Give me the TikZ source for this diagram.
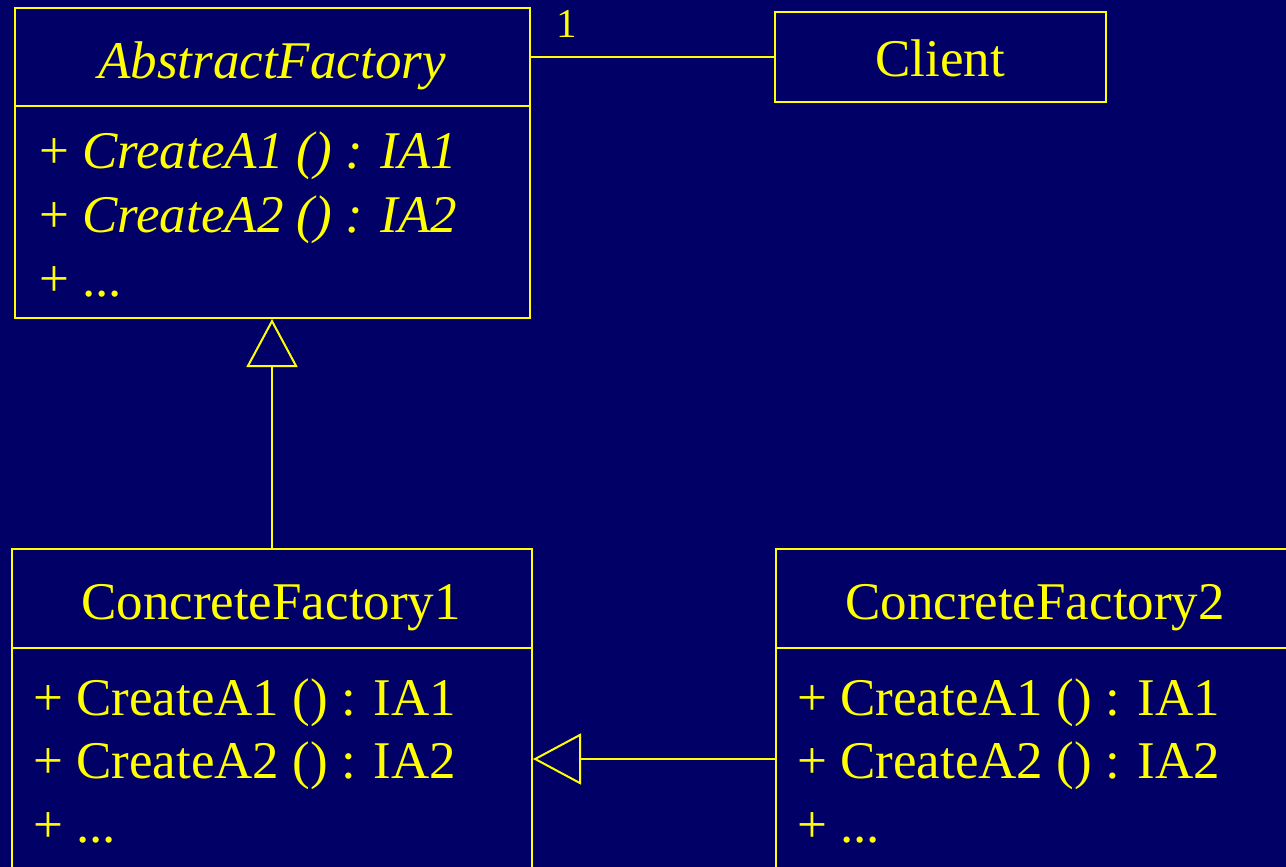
\documentclass[tikz,border=0pt]{standalone}
\usepackage{fontspec}
\setmainfont{Liberation Serif}
\usetikzlibrary{arrows.meta}
\definecolor{umlbg}{HTML}{000066}
\definecolor{umlfg}{HTML}{FFFF00}
\tikzset{
  box/.style={draw=umlfg, line width=2pt, rectangle, inner sep=0pt},
  txt/.style={text=umlfg, inner sep=0pt, font=\fontsize{53}{64}\selectfont},
  inherit/.style={draw=umlfg, line width=2pt,
    -{Triangle[open, length=48pt, width=51pt, line width=2pt]}},
}
\begin{document}
\begin{tikzpicture}[x=1pt, y=-1pt]
  \useasboundingbox (0,0) rectangle (1286,867);
  \fill[umlbg] (0,0) rectangle (1286,867);
  \clip (0,0) rectangle (1286,867);

  % AbstractFactory
  \node[box, minimum width=515pt, minimum height=98pt] (aftitle) at (272.5,57) {};
  \node[box, minimum width=515pt, minimum height=212pt] (afbody) at (272.5,212) {};
  \node[txt, anchor=base] (afname) at (272,78) {\itshape AbstractFactory};
  \node[txt, anchor=base west] (afm1) at (39,168) {+ \textit{CreateA1 () : IA1}};
  \node[txt, anchor=base west] (afm2) at (39,232) {+ \textit{CreateA2 () : IA2}};
  \node[txt, anchor=base west] (afm3) at (39,296) {+ ...};

  % Client
  \node[box, minimum width=331pt, minimum height=90pt] (client) at (940.5,57) {};
  \node[txt, anchor=base] (clientname) at (940,77) {Client};

  % ConcreteFactory1
  \node[box, minimum width=520pt, minimum height=99pt] (cf1title) at (272,598.5) {};
  \node[box, minimum width=520pt, minimum height=260pt] (cf1body) at (272,778) {};
  \node[txt, anchor=base] (cf1name) at (271,619) {ConcreteFactory1};
  \node[txt, anchor=base west] (cf1m1) at (33,715) {+ CreateA1 () : IA1};
  \node[txt, anchor=base west] (cf1m2) at (33,778) {+ CreateA2 () : IA2};
  \node[txt, anchor=base west] (cf1m3) at (33,842) {+ ...};

  % ConcreteFactory2
  \node[box, minimum width=540pt, minimum height=99pt] (cf2title) at (1046,598.5) {};
  \node[box, minimum width=540pt, minimum height=260pt] (cf2body) at (1046,778) {};
  \node[txt, anchor=base] (cf2name) at (1035,619) {ConcreteFactory2};
  \node[txt, anchor=base west] (cf2m1) at (797,715) {+ CreateA1 () : IA1};
  \node[txt, anchor=base west] (cf2m2) at (797,778) {+ CreateA2 () : IA2};
  \node[txt, anchor=base west] (cf2m3) at (797,842) {+ ...};

  % Association with multiplicity
  \draw[draw=umlfg, line width=2pt] (aftitle.east) -- (client.west);
  \node[text=umlfg, inner sep=0pt, anchor=base, font=\fontsize{41}{48}\selectfont] (mult) at (567,38) {1};

  % Generalizations
  \draw[inherit] (cf1title.north) -- (cf1title.north |- afbody.south);
  \coordinate (genrow) at (0,759);
  \draw[inherit] (cf2body.west |- genrow) -- (cf1body.east |- genrow);
\end{tikzpicture}
\end{document}
